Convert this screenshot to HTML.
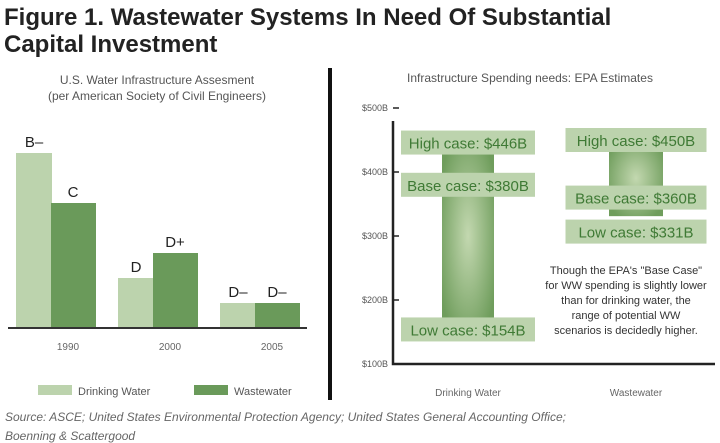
<!DOCTYPE html>
<html><head><meta charset="utf-8"><style>
body{margin:0;background:#fff;}
svg{display:block;font-family:"Liberation Sans",sans-serif;}
</style></head><body>
<svg width="720" height="443" viewBox="0 0 720 443">
<defs>
<radialGradient id="rg" cx="50%" cy="50%" r="60%">
<stop offset="0" stop-color="#c3d8b0"/><stop offset="1" stop-color="#6f9d5c"/>
</radialGradient>
</defs>
<text x="4" y="25" font-size="24" font-weight="bold" fill="#222">Figure 1. Wastewater Systems In Need Of Substantial</text>
<text x="4" y="52" font-size="24" font-weight="bold" fill="#222">Capital Investment</text>
<text x="157" y="84" font-size="12" fill="#555" text-anchor="middle">U.S. Water Infrastructure Assesment</text>
<text x="157" y="100" font-size="12" fill="#555" text-anchor="middle">(per American Society of Civil Engineers)</text>
<g id="left"></g>
<line x1="330" y1="68" x2="330" y2="400" stroke="#111" stroke-width="4"/>
<text x="530" y="82" font-size="12" fill="#555" text-anchor="middle">Infrastructure Spending needs: EPA Estimates</text>
<g id="right"></g>
<g font-size="11" fill="#333" text-anchor="middle">
<text x="626" y="274">Though the EPA's "Base Case"</text>
<text x="626" y="289">for WW spending is slightly lower</text>
<text x="626" y="304">than for drinking water, the</text>
<text x="626" y="319">range of potential WW</text>
<text x="626" y="334">scenarios is decidedly higher.</text>
</g>
<rect x="38" y="385" width="34" height="10" fill="#bcd3ad"/>
<text x="78" y="395" font-size="11" fill="#555">Drinking Water</text>
<rect x="194" y="385" width="34" height="10" fill="#6a9a5a"/>
<text x="234" y="395" font-size="11" fill="#555">Wastewater</text>
<text x="5" y="421" font-size="12" font-style="italic" fill="#666">Source: ASCE; United States Environmental Protection Agency; United States General Accounting Office;</text>
<text x="5" y="440" font-size="12" font-style="italic" fill="#666">Boenning &amp; Scattergood</text>
</svg>
<script>
const years=["1990","2000","2005"];
const drinkingScore=[7,2,1];
const wastewaterScore=[5,3,1];
const drinkingGrade=["B–","D","D–"];
const wastewaterGrade=["C","D+","D–"];
const tickLabels=["$500B","$400B","$300B","$200B","$100B"];
const tickValues=[500,400,300,200,100];
const cats=["Drinking Water","Wastewater"];
const highCase=[446,450];
const baseCase=[380,360];
const lowCase=[154,331];
const NS="http://www.w3.org/2000/svg";
function mk(p,t,a,txt){const e=document.createElementNS(NS,t);for(const k in a)e.setAttribute(k,a[k]);if(txt!=null)e.textContent=txt;p.appendChild(e);return e;}
const L=document.getElementById('left');
const base=328, unit=25;
const yL=v=>base-v*unit;
const groupX=i=>16+i*102;
years.forEach((yr,i)=>{
 const x=groupX(i);
 const hd=drinkingScore[i]*unit, hw=wastewaterScore[i]*unit;
 let r=mk(L,'rect',{x:x,y:yL(drinkingScore[i]),width:36,height:hd,fill:'#bcd3ad'});
 
 
 r=mk(L,'rect',{x:x+35,y:yL(wastewaterScore[i]),width:45,height:hw,fill:'#6a9a5a'});
 
 
 let t=mk(L,'text',{x:x+18,y:yL(drinkingScore[i])-6,'font-size':15,fill:'#222','text-anchor':'middle'},drinkingGrade[i]);
 
 
 t=mk(L,'text',{x:x+57,y:yL(wastewaterScore[i])-6,'font-size':15,fill:'#222','text-anchor':'middle'},wastewaterGrade[i]);
 
 
 t=mk(L,'text',{x:x+52,y:350,'font-size':10,fill:'#666','text-anchor':'middle'},yr);
 
 
});
let ax=mk(L,'line',{x1:8,y1:base,x2:307,y2:base,stroke:'#333','stroke-width':2});



const R=document.getElementById('right');
const y0=364, pxPer=0.64;
const yR=v=>y0-(v-100)*pxPer;
let ya=mk(R,'path',{d:'M393 121 V364 H715',stroke:'#222','stroke-width':2.5,fill:'none'});


tickValues.forEach((v,i)=>{
 const l=mk(R,'line',{x1:393,y1:yR(v),x2:399,y2:yR(v),stroke:'#222','stroke-width':1.5});
 
 
 const t=mk(R,'text',{x:388,y:yR(v)+3,'font-size':9,fill:'#555','text-anchor':'end'},tickLabels[i]);
 
 
});
const cx=[468,636], boxW=[134,141], barW=[52,54];
cats.forEach((c,i)=>{
 const b=mk(R,'rect',{x:cx[i]-barW[i]/2,y:yR(highCase[i]),width:barW[i],height:yR(lowCase[i])-yR(highCase[i]),fill:'url(#rg)'});
 
 
 let prev=-1e9;
 [[highCase,'High case: $'],[baseCase,'Base case: $'],[lowCase,'Low case: $']].forEach(([arr,lab],k)=>{
  let yy=yR(arr[i]);
  if(yy<prev+34) yy=prev+34;
  prev=yy;
  const bx=mk(R,'rect',{x:cx[i]-boxW[i]/2,y:yy-12,width:boxW[i],height:24,fill:'#bcd3ad'});
  
  
  const t=mk(R,'text',{x:cx[i],y:yy+6,'font-size':15,fill:'#3f7a35','text-anchor':'middle'},lab+arr[i]+'B');
  
  
 });
 const t=mk(R,'text',{x:cx[i],y:396,'font-size':10,fill:'#666','text-anchor':'middle'},c);
 
 
});
</script>
</body></html>
